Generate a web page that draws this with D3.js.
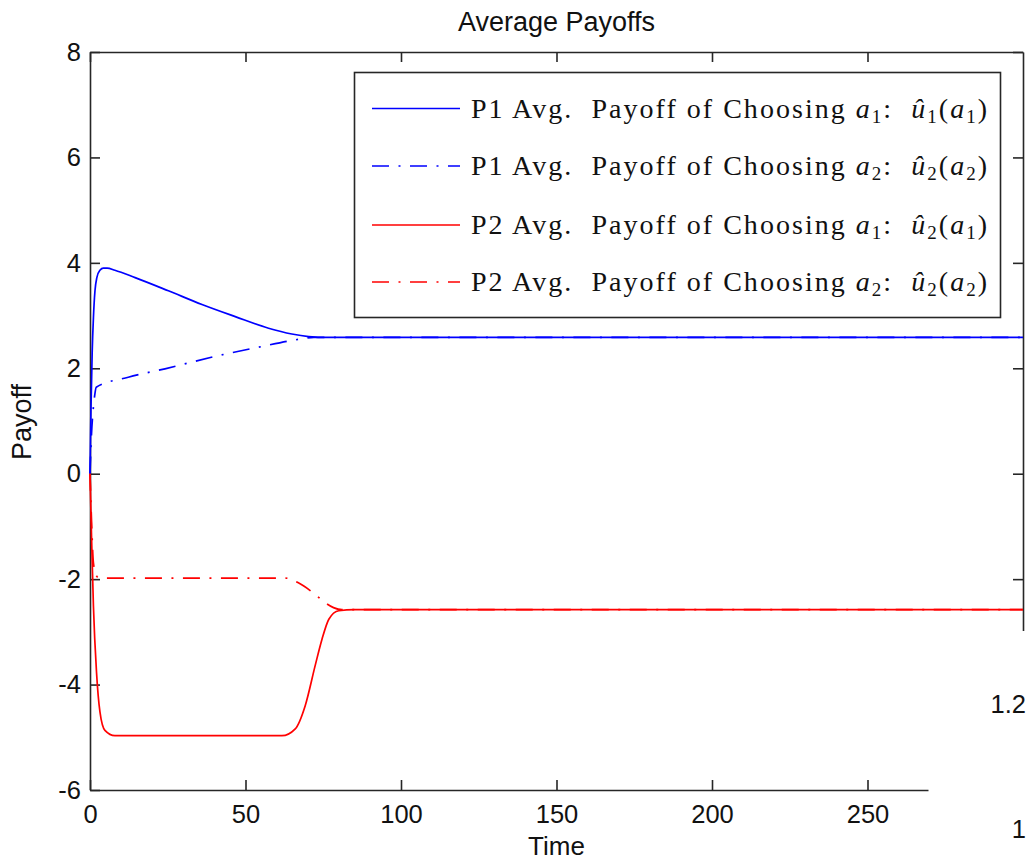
<!DOCTYPE html>
<html>
<head>
<meta charset="utf-8">
<script src="https://cdn.jsdelivr.net/npm/d3@7"></script>
<style>
  html, body { margin: 0; padding: 0; background: #fff; }
  svg { display: block; }
  text { white-space: pre; }
</style>
</head>
<body>
<svg id="chart" width="1031" height="866"></svg>
<script>
// Average payoff traces over time for the two players
const p1a1Time  = [0, 0.3, 0.7, 1.1, 1.6, 2.2, 3.2, 4.3, 5.5, 8, 14.5, 25.2, 36, 46.7, 57.4, 64.9, 70.3, 74, 80, 300];
const p1a1Value = [0, 1.2, 2.3, 2.96, 3.47, 3.72, 3.86, 3.9, 3.9, 3.86, 3.72, 3.47, 3.21, 2.98, 2.76, 2.65, 2.6, 2.585, 2.585, 2.585];

const p1a2Time  = [0, 0.5, 1.0, 1.5, 2, 12.3, 24.1, 41.3, 54.2, 67.2, 72, 300];
const p1a2Value = [0, 0.77, 1.2, 1.48, 1.64, 1.83, 1.99, 2.24, 2.40, 2.55, 2.585, 2.585];

const p2a1Time  = [0, 0.5, 1.1, 2.1, 3.2, 4.8, 8, 61.7, 66, 69.2, 72.4, 74.6, 76.8, 80, 85, 300];
const p2a1Value = [0, -1.2, -2.51, -3.77, -4.52, -4.87, -4.97, -4.97, -4.84, -4.40, -3.64, -3.14, -2.76, -2.6, -2.58, -2.58];

const p2a2Time  = [0, 0.5, 1.1, 2.1, 3, 62.8, 67, 72.4, 75.7, 78.3, 81, 300];
const p2a2Value = [0, -0.9, -1.69, -1.94, -1.98, -1.98, -2.07, -2.29, -2.45, -2.54, -2.58, -2.58];

const xTicks = [0, 50, 100, 150, 200, 250];
const yTicks = [-6, -4, -2, 0, 2, 4, 6, 8];

// legend rows: player, chosen action, hat subscript, argument subscript
const legendPlayers = ["P1", "P1", "P2", "P2"];
const legendAction  = ["1", "2", "1", "2"];
const legendHatSub  = ["1", "2", "2", "2"];
const legendArgSub  = ["1", "2", "1", "2"];

const series = [
  { t: p1a1Time, v: p1a1Value, color: "#0000ff", dash: null },
  { t: p1a2Time, v: p1a2Value, color: "#0000ff", dash: "17,9.5,2,9.5" },
  { t: p2a1Time, v: p2a1Value, color: "#ff0000", dash: null },
  { t: p2a2Time, v: p2a2Value, color: "#ff0000", dash: "17,9.5,2,9.5" }
];

const svg = d3.select("#chart");
const L = 90, R = 1023, T = 52, B = 790;
const x = d3.scaleLinear().domain([0, 300]).range([L, R]);
const y = d3.scaleLinear().domain([-6, 8]).range([B, T]);

const axisColor = "#262626";
const sans = "'Liberation Sans', Arial, Helvetica, sans-serif";
const plainNum = d => String(d);   // hyphen-minus, as in the printed figure

function styleAxis(g) {
  g.selectAll("path.domain").attr("stroke", axisColor).attr("stroke-width", 1.6);
  g.selectAll(".tick line").attr("stroke", axisColor).attr("stroke-width", 1.6);
  g.selectAll(".tick text").attr("fill", "#111").attr("font-family", sans).attr("font-size", 25.5);
}

// bottom / left with labels, top / right with inward ticks only
svg.append("g").attr("transform", `translate(0,${B})`)
  .call(d3.axisBottom(x).tickValues(xTicks).tickFormat(plainNum).tickSizeInner(-10).tickSizeOuter(0).tickPadding(15))
  .call(styleAxis);
svg.append("g").attr("transform", `translate(${L},0)`)
  .call(d3.axisLeft(y).tickValues(yTicks).tickFormat(plainNum).tickSizeInner(-10).tickSizeOuter(0).tickPadding(9))
  .call(styleAxis);
svg.append("g").attr("transform", `translate(0,${T})`)
  .call(d3.axisTop(x).tickValues(xTicks).tickSizeInner(-10).tickSizeOuter(0).tickFormat(""))
  .call(styleAxis);
svg.append("g").attr("transform", `translate(${R},0)`)
  .call(d3.axisRight(y).tickValues(yTicks).tickSizeInner(-10).tickSizeOuter(0).tickFormat(""))
  .call(styleAxis);

svg.append("clipPath").attr("id", "plotClip")
  .append("rect").attr("x", L - 2).attr("y", T).attr("width", R - L + 2).attr("height", B - T);

const line = d3.line()
  .x(d => x(d[0]))
  .y(d => y(d[1]))
  .curve(d3.curveMonotoneX);

const plot = svg.append("g").attr("clip-path", "url(#plotClip)");
series.forEach(s => {
  plot.append("path")
    .datum(s.t.map((t, i) => [t, s.v[i]]))
    .attr("fill", "none")
    .attr("stroke", s.color)
    .attr("stroke-width", 1.7)
    .attr("stroke-dasharray", s.dash)
    .attr("d", line);
});

// title and axis labels
svg.append("text").attr("x", (L + R) / 2).attr("y", 31)
  .attr("text-anchor", "middle").attr("font-family", sans).attr("font-size", 27).attr("fill", "#111")
  .text("Average Payoffs");
svg.append("text").attr("x", (L + R) / 2).attr("y", 855)
  .attr("text-anchor", "middle").attr("font-family", sans).attr("font-size", 26).attr("fill", "#111")
  .text("Time");
svg.append("text").attr("transform", "translate(31,422) rotate(-90)")
  .attr("text-anchor", "middle").attr("font-family", sans).attr("font-size", 27).attr("fill", "#111")
  .text("Payoff");

// legend
const serif = "'Liberation Serif', 'Times New Roman', serif";
const lg = svg.append("g");
lg.append("rect").attr("x", 354.5).attr("y", 72.5).attr("width", 646).attr("height", 245)
  .attr("fill", "#fff").attr("stroke", axisColor).attr("stroke-width", 1.6);

const rowY = [108.5, 166, 225, 282];
const textLeft = 471, textRight = 987;
series.forEach((s, i) => {
  lg.append("line")
    .attr("x1", 372).attr("x2", 460).attr("y1", rowY[i]).attr("y2", rowY[i])
    .attr("stroke", s.color).attr("stroke-width", 1.7)
    .attr("stroke-dasharray", s.dash);
  const t = lg.append("text").attr("x", textLeft).attr("y", rowY[i] + 9)
    .attr("font-family", serif).attr("font-size", 28).attr("fill", "#111");
  t.append("tspan").text(`${legendPlayers[i]} Avg.  Payoff of Choosing `);
  t.append("tspan").attr("font-style", "italic").text("a");
  t.append("tspan").attr("font-size", 19).attr("dy", 5).text(legendAction[i]);
  t.append("tspan").attr("dy", -5).text(":  ");
  t.append("tspan").attr("font-style", "italic").text("\u00fb");
  t.append("tspan").attr("font-size", 19).attr("dy", 5).text(legendHatSub[i]);
  t.append("tspan").attr("dy", -5).text("(");
  t.append("tspan").attr("font-style", "italic").text("a");
  t.append("tspan").attr("font-size", 19).attr("dy", 5).text(legendArgSub[i]);
  t.append("tspan").attr("dy", -5).text(")");
  // spread the glyphs so the entry fills the same width as the typeset label
  const node = t.node();
  const w = node.getComputedTextLength();
  const n = node.textContent.length;
  if (w > 0 && n > 1) t.attr("letter-spacing", Math.max(0, (textRight - textLeft - w) / (n - 1)));
});

// lower-right corner is blank apart from two stray tick labels
svg.append("rect").attr("x", 928.5).attr("y", 631).attr("width", 110).attr("height", 240).attr("fill", "#fff");
svg.append("text").attr("x", 1026).attr("y", 713).attr("text-anchor", "end")
  .attr("font-family", sans).attr("font-size", 25.5).attr("fill", "#111").text("1.2");
svg.append("text").attr("x", 1026).attr("y", 838).attr("text-anchor", "end")
  .attr("font-family", sans).attr("font-size", 25.5).attr("fill", "#111").text("1");
</script>
</body>
</html>
